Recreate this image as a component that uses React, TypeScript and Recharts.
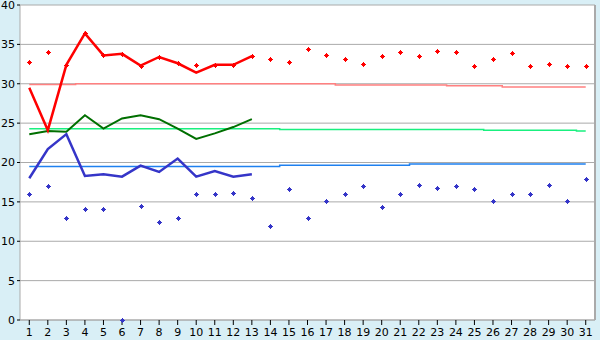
import React from "react";
import {
  ComposedChart,
  Line,
  Scatter,
  XAxis,
  YAxis,
  CartesianGrid,
  ReferenceLine,
} from "recharts";

const days = [1, 2, 3, 4, 5, 6, 7, 8, 9, 10, 11, 12, 13, 14, 15, 16, 17, 18, 19, 20, 21, 22, 23, 24, 25, 26, 27, 28, 29, 30, 31];

const redHigh = [32.8, 34.0, 32.4, 36.4, 33.6, 33.8, 32.3, 33.4, 32.6, 32.4, 32.4, 32.4, 33.5, 33.2, 32.8, 34.4, 33.6, 33.2, 32.5, 33.5, 34.0, 33.5, 34.2, 34.0, 32.2, 33.2, 33.9, 32.2, 32.5, 32.2, 32.2];

const redLine = [29.5, 24.1, 32.4, 36.4, 33.6, 33.8, 32.3, 33.4, 32.6, 31.4, 32.4, 32.4, 33.5];
const greenLine = [23.6, 24.0, 23.9, 26.0, 24.3, 25.6, 26.0, 25.5, 24.3, 23.0, 23.7, 24.5, 25.5];
const blueLine = [18.0, 21.7, 23.6, 18.3, 18.5, 18.2, 19.6, 18.8, 20.5, 18.2, 18.9, 18.2, 18.5];

const blueLow = [16.0, 17.0, 13.0, 14.1, 14.1, 0, 14.5, 12.5, 13.0, 16.0, 16.0, 16.1, 15.5, 12.0, 16.6, 13.0, 15.1, 16.0, 17.0, 14.4, 16.0, 17.2, 16.8, 17.0, 16.6, 15.1, 16.0, 16.0, 17.2, 15.1, 17.9];

const redNormal = [29.9, 29.9, 29.9, 30.0, 30.0, 30.0, 30.0, 30.0, 30.0, 30.0, 30.0, 30.0, 30.0, 30.0, 30.0, 30.0, 30.0, 29.85, 29.85, 29.85, 29.85, 29.85, 29.85, 29.75, 29.75, 29.75, 29.6, 29.6, 29.6, 29.6, 29.6];
const greenNormal = [24.3, 24.3, 24.3, 24.3, 24.3, 24.3, 24.3, 24.3, 24.3, 24.3, 24.3, 24.3, 24.3, 24.3, 24.2, 24.2, 24.2, 24.2, 24.2, 24.2, 24.2, 24.2, 24.2, 24.2, 24.2, 24.1, 24.1, 24.1, 24.1, 24.1, 24.0];
const blueNormal = [19.5, 19.5, 19.5, 19.5, 19.5, 19.5, 19.5, 19.5, 19.5, 19.5, 19.5, 19.5, 19.5, 19.5, 19.65, 19.65, 19.65, 19.65, 19.65, 19.65, 19.65, 19.8, 19.8, 19.8, 19.8, 19.8, 19.8, 19.8, 19.8, 19.8, 19.8];

const yTicks = [0, 5, 10, 15, 20, 25, 30, 35, 40];

const rows = days.map((d, i) => ({
  day: d,
  redHigh: redHigh[i],
  redLine: i < redLine.length ? redLine[i] : null,
  greenLine: i < greenLine.length ? greenLine[i] : null,
  blueLine: i < blueLine.length ? blueLine[i] : null,
  blueLow: blueLow[i],
  redNormal: redNormal[i],
  greenNormal: greenNormal[i],
  blueNormal: blueNormal[i],
}));

const makeMarker = (color: string) => (props: any) => {
  const { cx, cy } = props;
  if (cx == null || cy == null) return <g />;
  const x = Math.round(cx);
  const y = Math.round(cy);
  return (
    <g shapeRendering="crispEdges">
      <rect x={x - 2} y={y} width={5} height={1} fill={color} />
      <rect x={x} y={y - 2} width={1} height={5} fill={color} />
      <rect x={x - 1} y={y - 1} width={3} height={3} fill={color} />
    </g>
  );
};

const tickStyle = { fill: "#000", fontSize: 11, fontFamily: "DejaVu Sans" };

export default function App() {
  return (
    <div
      style={{
        position: "absolute",
        left: 0,
        top: 0,
        width: 600,
        height: 340,
        background: "#d9eff6",
      }}
    >
      <ComposedChart
        width={600}
        height={340}
        data={rows}
        margin={{ top: 5, right: 5, left: 0, bottom: 0 }}
      >
        <CartesianGrid vertical={false} stroke="#aaaaaa" fill="#ffffff" />
        <XAxis
          dataKey="day"
          type="number"
          domain={[0.5, 31.5]}
          ticks={days}
          interval={0}
          height={20}
          tickSize={5}
          tickMargin={3}
          axisLine={{ stroke: "#aaaaaa" }}
          tickLine={{ stroke: "#000" }}
          tick={tickStyle}
        />
        <YAxis
          type="number"
          domain={[0, 40]}
          ticks={yTicks}
          interval={0}
          width={20}
          tickSize={3}
          axisLine={{ stroke: "#aaaaaa" }}
          tickLine={{ stroke: "#000" }}
          tick={tickStyle}
        />
        <ReferenceLine x={31.5} stroke="#aaaaaa" strokeWidth={2} />
        <Line dataKey="redNormal" type="step" stroke="#ff8080" strokeWidth={1.5} dot={false} isAnimationActive={false} />
        <Line dataKey="greenNormal" type="step" stroke="#19f07f" strokeWidth={1.5} dot={false} isAnimationActive={false} />
        <Line dataKey="blueNormal" type="step" stroke="#1e80f0" strokeWidth={1.5} dot={false} isAnimationActive={false} />
        <Line dataKey="greenLine" type="linear" stroke="#006f00" strokeWidth={2} dot={false} isAnimationActive={false} />
        <Line dataKey="blueLine" type="linear" stroke="#3535c8" strokeWidth={2.5} dot={false} isAnimationActive={false} />
        <Line dataKey="redLine" type="linear" stroke="#ff0000" strokeWidth={2.5} dot={false} isAnimationActive={false} />
        <Scatter dataKey="redHigh" fill="#ff0000" shape={makeMarker("#ff0000")} isAnimationActive={false} />
        <Scatter dataKey="blueLow" fill="#3535c8" shape={makeMarker("#3535c8")} isAnimationActive={false} />
      </ComposedChart>
    </div>
  );
}
